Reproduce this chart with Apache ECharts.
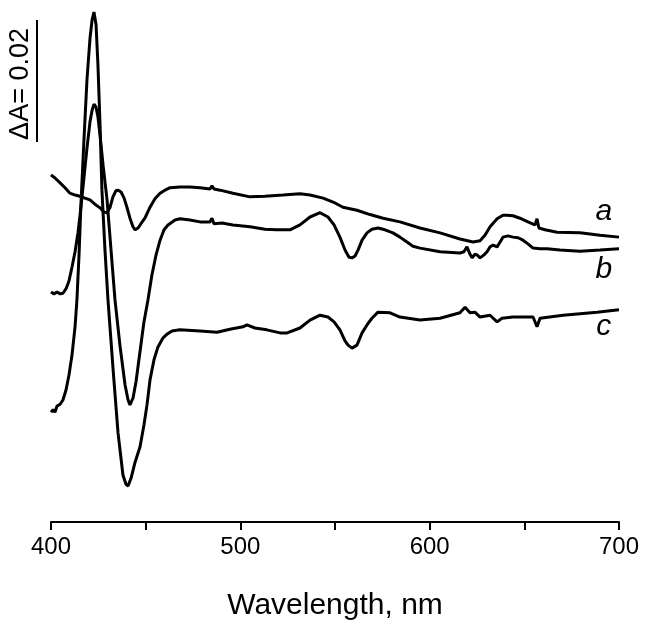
<!DOCTYPE html>
<html>
<head>
<meta charset="utf-8">
<script src="https://cdn.jsdelivr.net/npm/echarts@6/dist/echarts.min.js"></script>
<style>html,body{margin:0;padding:0;background:#fff}#c{width:649px;height:637px}</style>
</head>
<body>
<div id="c"></div>
<script>
// Difference spectra, ΔA in units of 0.001 (offset arbitrary)
const wlA = [400.0,402.1,404.8,407.4,410.0,412.7,415.3,417.9,420.6,423.2,425.9,428.0,429.6,431.2,432.7,434.3,435.4,437.0,438.6,440.1,441.7,443.3,444.4,446.0,447.5,449.6,452.3,454.9,457.6,460.2,462.9,468.1,473.4,478.7,484.0,485.0,486.1,489.3,496.1,505.1,513.0,522.5,531.5,536.8,543.7,550.0,554.2,561.6,568.5,575.4,584.3,594.9,605.5,616.0,622.9,626.6,629.2,631.9,635.6,638.7,640.8,644.0,647.7,651.9,655.6,656.7,657.7,660.9,667.3,679.4,690.0,700.0];
const valA = [56.9,56.4,55.6,54.8,53.9,53.6,53.4,53.1,52.8,52.1,51.5,50.8,50.7,51.6,53.3,54.3,54.4,54.1,53.1,51.6,49.8,48.4,47.9,48.2,48.9,49.8,51.6,53.0,53.9,54.4,54.8,54.9,54.9,54.8,54.6,55.1,54.6,54.4,53.9,53.3,53.4,53.6,53.8,53.6,53.1,52.3,51.6,51.1,50.4,49.8,49.2,48.2,47.4,46.4,45.9,46.1,47.0,48.4,49.7,50.3,50.3,50.2,49.8,49.2,48.7,49.7,48.2,47.9,47.5,47.4,47.0,46.7];

const wlB = [400.0,401.6,403.2,404.8,406.3,407.9,409.5,411.1,412.7,414.3,415.8,417.4,419.0,420.6,421.7,422.7,423.8,424.8,425.9,427.5,429.6,431.7,433.8,436.4,439.1,440.7,441.7,443.3,444.9,447.0,449.1,451.2,453.3,455.5,457.6,459.7,461.8,465.5,468.1,473.4,478.7,484.0,485.0,486.1,490.3,496.1,505.1,513.0,519.4,526.2,531.5,536.8,542.1,546.3,549.5,552.6,555.3,557.4,559.0,560.6,562.2,564.3,566.9,569.5,572.7,576.4,580.6,584.3,588.0,591.2,594.9,605.5,616.0,618.1,619.7,621.3,622.4,623.9,625.0,626.6,628.7,630.3,631.9,633.5,635.6,637.2,638.7,641.4,644.0,646.7,649.3,651.9,654.6,658.3,662.0,668.8,679.4,690.0,700.0];
const valB = [37.7,37.4,37.7,37.4,37.5,38.2,39.5,41.8,44.3,47.5,51.6,56.4,61.3,65.6,67.5,68.5,68.0,66.4,63.4,58.5,52.8,44.6,36.4,29.0,22.5,20.0,19.2,20.3,23.0,27.9,32.8,36.4,40.5,43.8,46.2,47.9,48.7,49.5,49.7,49.5,49.2,49.2,49.8,48.9,49.0,48.7,48.4,48.0,47.9,47.9,48.7,50.0,50.7,50.0,48.7,46.7,44.6,43.4,43.3,43.6,44.6,46.2,47.4,48.0,48.2,47.9,47.4,46.7,45.9,45.2,44.9,44.3,44.1,44.3,45.1,43.9,43.3,43.9,43.8,43.3,43.8,44.3,45.1,45.4,45.1,45.9,46.7,46.9,46.7,46.6,46.2,45.6,44.9,44.8,44.8,44.6,44.4,44.6,44.8];

const wlC = [400.0,401.1,402.1,403.2,404.8,406.3,407.9,409.5,411.1,412.7,413.7,414.8,415.8,417.4,419.0,420.6,421.7,422.7,423.8,424.8,425.9,426.9,428.5,430.1,432.7,435.4,438.0,439.6,440.7,442.3,444.4,447.0,449.1,450.7,452.3,454.4,456.5,459.2,461.3,463.9,468.1,478.7,487.7,494.5,501.4,503.5,507.7,514.0,521.0,524.7,531.5,536.8,542.1,546.3,549.5,552.6,555.3,556.9,559.0,561.6,564.3,566.9,569.5,572.7,579.1,584.3,594.9,605.5,616.0,618.7,621.3,623.9,626.6,631.9,635.6,638.2,644.0,654.6,656.7,658.3,670.5,688.4,700.0];
const valC = [18.0,18.4,18.0,19.0,19.3,20.0,21.6,24.1,27.4,32.0,36.4,43.8,52.0,62.6,72.5,79.3,82.3,83.6,81.5,74.9,65.1,54.4,44.6,36.4,25.4,14.6,7.7,6.2,5.9,7.2,9.8,12.3,15.9,19.2,23.3,26.6,28.7,30.2,30.8,31.3,31.5,31.3,31.1,31.6,32.0,32.3,31.8,31.5,31.0,31.0,31.8,33.1,33.9,33.6,32.8,31.5,29.7,29.0,28.5,29.0,31.0,32.3,33.4,34.4,34.3,33.6,33.1,33.4,34.3,35.2,34.3,34.4,33.6,33.9,32.8,33.4,33.6,33.6,32.0,33.4,33.9,34.4,34.8];

const xTicks = [400, 500, 600, 700];
const seriesNames = ['a', 'b', 'c'];
const labelAnchors = [[692, 50.8], [692, 41.3], [692, 32.1]]; // label positions in data units
const scaleBar = [62.3, 82.3]; // 0.02 ΔA in these units
const scaleText = 'ΔA= 0.02';

const zip = (w, v) => w.map((x, i) => [x, v[i]]);
const chart = echarts.init(document.getElementById('c'), null, {renderer: 'canvas'});
const FONT = '"Liberation Sans", Arial, sans-serif';
const lineStyle = {color: '#000', width: 3};
const option = {
  animation: false,
  backgroundColor: '#fff',
  grid: {left: 51, right: 30, top: 0, bottom: 115},
  xAxis: {
    type: 'value', min: 400, max: 700, interval: 50,
    name: 'Wavelength, nm', nameLocation: 'middle', nameGap: 69,
    nameTextStyle: {fontFamily: FONT, fontSize: 30, color: '#000'},
    axisLine: {show: true, onZero: false, lineStyle: {color: '#000', width: 2}},
    axisTick: {show: true, length: 8, inside: false, lineStyle: {color: '#000', width: 2}},
    axisLabel: {fontFamily: FONT, fontSize: 24, color: '#000', margin: 13,
      formatter: v => xTicks.includes(v) ? String(v) : ''},
    splitLine: {show: false}
  },
  yAxis: {type: 'value', min: 0, max: 522 / 6.1, show: false, splitLine: {show: false}},
  series: [
    {name: 'a', type: 'line', data: zip(wlA, valA), showSymbol: false, lineStyle, smooth: false},
    {name: 'b', type: 'line', data: zip(wlB, valB), showSymbol: false, lineStyle, smooth: false},
    {name: 'c', type: 'line', data: zip(wlC, valC), showSymbol: false, lineStyle, smooth: false}
  ]
};
chart.setOption(option);

const p1 = chart.convertToPixel({gridIndex: 0}, [400, scaleBar[0]]);
const p2 = chart.convertToPixel({gridIndex: 0}, [400, scaleBar[1]]);
const barX = p1[0] - 14;
const graphics = [
  {type: 'line', shape: {x1: barX, y1: p1[1], x2: barX, y2: p2[1]}, style: {stroke: '#000', lineWidth: 2}},
  {type: 'text', x: barX - 16, y: (p1[1] + p2[1]) / 2 + 3, rotation: Math.PI / 2,
   style: {text: scaleText, fontFamily: FONT, fontSize: 27, fill: '#000', align: 'center', verticalAlign: 'middle'}}
];
labelAnchors.forEach((a, i) => {
  const p = chart.convertToPixel({gridIndex: 0}, a);
  graphics.push({type: 'text', x: p[0], y: p[1],
    style: {text: seriesNames[i], fontFamily: FONT, fontSize: 30, fontStyle: 'italic', fill: '#000', align: 'center', verticalAlign: 'middle'}});
});
chart.setOption({graphic: graphics});
</script>
</body>
</html>
